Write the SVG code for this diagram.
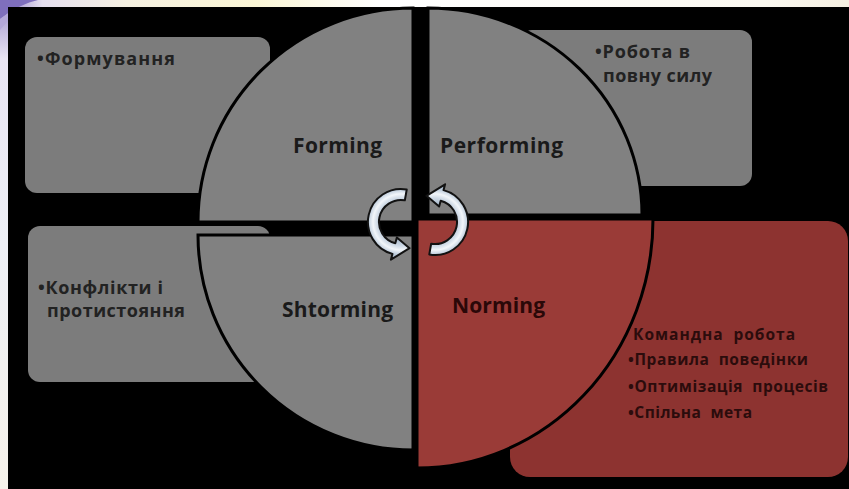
<svg xmlns="http://www.w3.org/2000/svg" width="849" height="489" viewBox="0 0 849 489">
  <style>
    .box-gray { fill: #7c7c7c; }
    .box-red { fill: #8d3330; }
    .quad { stroke: #000; stroke-width: 3; stroke-linejoin: miter; }
    .q-gray { fill: #818181; }
    .q-red { fill: #9a3b37; }
    .label { font-family: "Open Sans", "Liberation Sans", sans-serif; font-weight: bold; font-size: 21px; fill: #1a1a1a; }
    .label-red { fill: #2a0808; }
    .note { font-family: "Open Sans", "Liberation Sans", sans-serif; font-weight: bold; font-size: 18px; fill: #222; }
    .list { font-family: "Open Sans", "Liberation Sans", sans-serif; font-weight: bold; font-size: 15.5px; fill: #2b0c0c; white-space: pre; }
    .cyc { fill: url(#cycFill); stroke: #121212; stroke-width: 2; stroke-linejoin: round; }
  </style>
  <defs>
    <linearGradient id="topStrip" x1="0" y1="0" x2="1" y2="0">
      <stop offset="0" stop-color="#8e7cc3"/>
      <stop offset="0.05" stop-color="#e6e0f0"/>
      <stop offset="0.15" stop-color="#f6f1e2"/>
      <stop offset="0.3" stop-color="#fbf6d6"/>
      <stop offset="0.45" stop-color="#ffffff"/>
      <stop offset="0.9" stop-color="#fbf9f1"/>
      <stop offset="1" stop-color="#f5f0e2"/>
    </linearGradient>
    <linearGradient id="leftStrip" x1="0" y1="0" x2="0" y2="1">
      <stop offset="0" stop-color="#9a8ccc"/>
      <stop offset="0.12" stop-color="#e9e5f3"/>
      <stop offset="0.5" stop-color="#eef0f6"/>
      <stop offset="1" stop-color="#f6f2ea"/>
    </linearGradient>
    <radialGradient id="cycFill" gradientUnits="userSpaceOnUse" cx="0" cy="0" r="40">
      <stop offset="0.4" stop-color="#9fb2c7"/>
      <stop offset="0.6" stop-color="#cfdae6"/>
      <stop offset="0.7" stop-color="#f2f6fa"/>
      <stop offset="0.82" stop-color="#bccbdb"/>
      <stop offset="1" stop-color="#8ea3ba"/>
    </radialGradient>
    <!-- circular arrow, centred on the origin: cut end at top, head at bottom pointing right -->
    <path id="cycArrow" class="cyc" d="M5.73,-32.5 A33,33 0 0 0 -8.54,31.88 L-10.09,37.67 L8.5,26.15 L-4.14,15.45 L-5.69,21.25 A22,22 0 0 1 3.82,-21.67 Z"/>
  </defs>

  <!-- slide frame -->
  <rect x="0" y="0" width="849" height="489" fill="#f1eef4"/>
  <rect x="0" y="0" width="849" height="8" fill="url(#topStrip)"/>
  <rect x="0" y="0" width="9" height="489" fill="url(#leftStrip)"/>
  <path d="M0,0 L38,0 C26,3 15,8 7,14 L0,19 Z" fill="#7f6fbd"/>
  <path d="M0,19 L7,14 C12,10 16,8 20,7 L0,30 Z" fill="#b4a8da"/>
  <rect x="8" y="7" width="841" height="482" fill="#000"/>

  <!-- description panels -->
  <g id="forming-note">
    <rect class="box-gray" x="25" y="37" width="245" height="156" rx="12"/>
    <text class="note" x="37" y="65" textLength="138">•Формування</text>
  </g>
  <g id="performing-note">
    <rect class="box-gray" x="520" y="30" width="232" height="156" rx="12"/>
    <text class="note" x="595" y="58" textLength="95">•Робота в</text>
    <text class="note" x="603" y="82" textLength="109">повну силу</text>
  </g>
  <g id="shtorming-note">
    <rect class="box-gray" x="28" y="226" width="242" height="156" rx="12"/>
    <text class="note" x="38" y="294" textLength="125">•Конфлікти і</text>
    <text class="note" x="47" y="317" textLength="138">протистояння</text>
  </g>
  <g id="norming-note">
    <rect class="box-red" x="510" y="221" width="338" height="256" rx="20"/>
  </g>

  <!-- quadrants -->
  <g id="forming">
    <path class="quad q-gray" d="M413,222 L198,222 A215,214 0 0 1 413,8 Z"/>
    <text class="label" x="293" y="153" textLength="89">Forming</text>
  </g>
  <g id="performing">
    <path class="quad q-gray" d="M428,215 L428,8 A214,207 0 0 1 642,215 Z"/>
    <text class="label" x="440" y="153" textLength="123">Performing</text>
  </g>
  <g id="shtorming">
    <path class="quad q-gray" d="M413,235 L413,450 A215,215 0 0 1 198,235 Z"/>
    <text class="label" x="282" y="317" textLength="111">Shtorming</text>
  </g>
  <g id="norming">
    <path class="quad q-red" d="M417,219 L653,219 A236,249 0 0 1 417,468 Z"/>
    <text class="label label-red" x="452" y="313" textLength="93">Norming</text>
  </g>

  <!-- norming bullet list sits above the quadrant edge -->
  <g id="norming-list">
    <text class="list" x="633" y="340" textLength="162" xml:space="preserve">Командна  робота</text>
    <text class="list" x="628" y="365" textLength="180" xml:space="preserve">•Правила  поведінки</text>
    <text class="list" x="628" y="392" textLength="200" xml:space="preserve">•Оптимізація  процесів</text>
    <text class="list" x="628" y="418" textLength="124" xml:space="preserve">•Спільна  мета</text>
  </g>

  <!-- cycle arrows -->
  <g id="connectors">
    <use href="#cycArrow" transform="translate(401,222)"/>
    <use href="#cycArrow" transform="translate(435,222) rotate(180)"/>
  </g>
</svg>
